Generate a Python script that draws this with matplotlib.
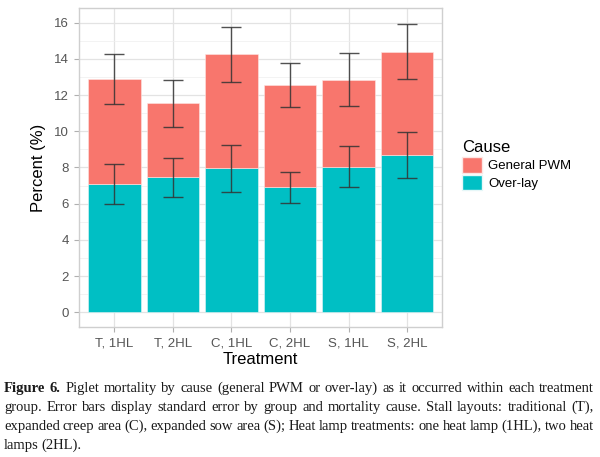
import numpy as np
import matplotlib.pyplot as plt
from matplotlib.patches import Patch

# data
treatments = ["T, 1HL", "T, 2HL", "C, 1HL", "C, 2HL", "S, 1HL", "S, 2HL"]
overlay = [7.1, 7.45, 7.95, 6.9, 8.03, 8.69]
overlay_se = [1.1, 1.08, 1.32, 0.85, 1.13, 1.29]
pwm = [5.8, 4.1, 6.3, 5.65, 4.82, 5.71]
pwm_se = [1.38, 1.31, 1.53, 1.21, 1.48, 1.51]

red = "#F8766D"
teal = "#00BFC4"

fig = plt.figure(figsize=(6, 4.57), dpi=100)
ax = fig.add_axes([0.132, 0.285, 0.605, 0.697])

x = np.arange(len(treatments))
ax.bar(x, overlay, width=0.9, color=teal, edgecolor="#e6f7f8", linewidth=0.4, zorder=2)
ax.bar(x, pwm, width=0.9, bottom=overlay, color=red, edgecolor="#fde6e4", linewidth=0.4, zorder=2)

total = np.array(overlay) + np.array(pwm)
ax.errorbar(x, overlay, yerr=overlay_se, fmt="none", ecolor="#333333", elinewidth=1.0,
            capsize=7, capthick=1.0, alpha=0.85, zorder=3)
ax.errorbar(x, total, yerr=pwm_se, fmt="none", ecolor="#333333", elinewidth=1.0,
            capsize=7, capthick=1.0, alpha=0.85, zorder=3)

ax.set_xlim(-0.6, 5.6)
ax.set_ylim(-0.8, 16.8)
ax.set_yticks(range(0, 17, 2))
ax.set_yticks(range(1, 17, 2), minor=True)
ax.set_xticks(x)
ax.set_xticklabels(treatments)

ax.grid(True, which="major", color="#e3e3e3", linewidth=0.9, zorder=0)
ax.grid(True, which="minor", axis="y", color="#efefef", linewidth=0.5, zorder=0)
ax.set_axisbelow(True)
for s in ax.spines.values():
    s.set_color("#cfcfcf")
    s.set_linewidth(1.0)
ax.tick_params(which="major", colors="#b0b0b0", length=3.5, width=0.8,
               labelcolor="#555555", labelsize=9.5, pad=4)
ax.tick_params(which="minor", length=0)
for lab in ax.get_xticklabels() + ax.get_yticklabels():
    lab.set_family("Liberation Sans")

ax.set_ylabel("Percent (%)", fontsize=12, family="Liberation Sans", labelpad=6)
ax.set_xlabel("Treatment", fontsize=12, family="Liberation Sans", labelpad=2)

handles = [Patch(facecolor=red, edgecolor="#fde6e4"), Patch(facecolor=teal, edgecolor="#e6f7f8")]
leg = fig.legend(handles, ["General PWM", "Over-lay"], title="Cause", loc="upper left",
                 bbox_to_anchor=(0.762, 0.705), frameon=False, handlelength=1.45, handleheight=1.45,
                 handletextpad=0.5, labelspacing=0.15, borderaxespad=0,
                 prop={"family": "Liberation Sans", "size": 9.5},
                 title_fontproperties={"family": "Liberation Sans", "size": 12})
leg._legend_box.align = "left"

# caption, justified word by word
cap_lines = [
    "Figure 6. Piglet mortality by cause (general PWM or over-lay) as it occurred within each treatment",
    "group. Error bars display standard error by group and mortality cause. Stall layouts: traditional (T),",
    "expanded creep area (C), expanded sow area (S); Heat lamp treatments: one heat lamp (1HL), two heat",
    "lamps (2HL).",
]
x_left, x_right = 4, 594
line_y = [392, 411, 430, 449]  # baselines in px from top
fs = 10.5
W, H = fig.bbox.width, fig.bbox.height
renderer = fig.canvas.get_renderer()
for i, line in enumerate(cap_lines):
    words = line.split(" ")
    yy = 1 - line_y[i] / H
    texts = []
    for j, w in enumerate(words):
        bold = (i == 0 and j < 2)
        t = fig.text(0, yy, w, fontsize=fs, family="Liberation Serif",
                     weight="bold" if bold else "normal", va="baseline", color="#1a1a1a")
        texts.append(t)
    widths = [t.get_window_extent(renderer).width for t in texts]
    if i < len(cap_lines) - 1:
        gap = (x_right - x_left - sum(widths)) / (len(words) - 1)
    else:
        gap = 3.0
    cx = x_left
    for t, w in zip(texts, widths):
        t.set_x(cx / W)
        cx += w + gap

fig.savefig("out.png", dpi=100)
